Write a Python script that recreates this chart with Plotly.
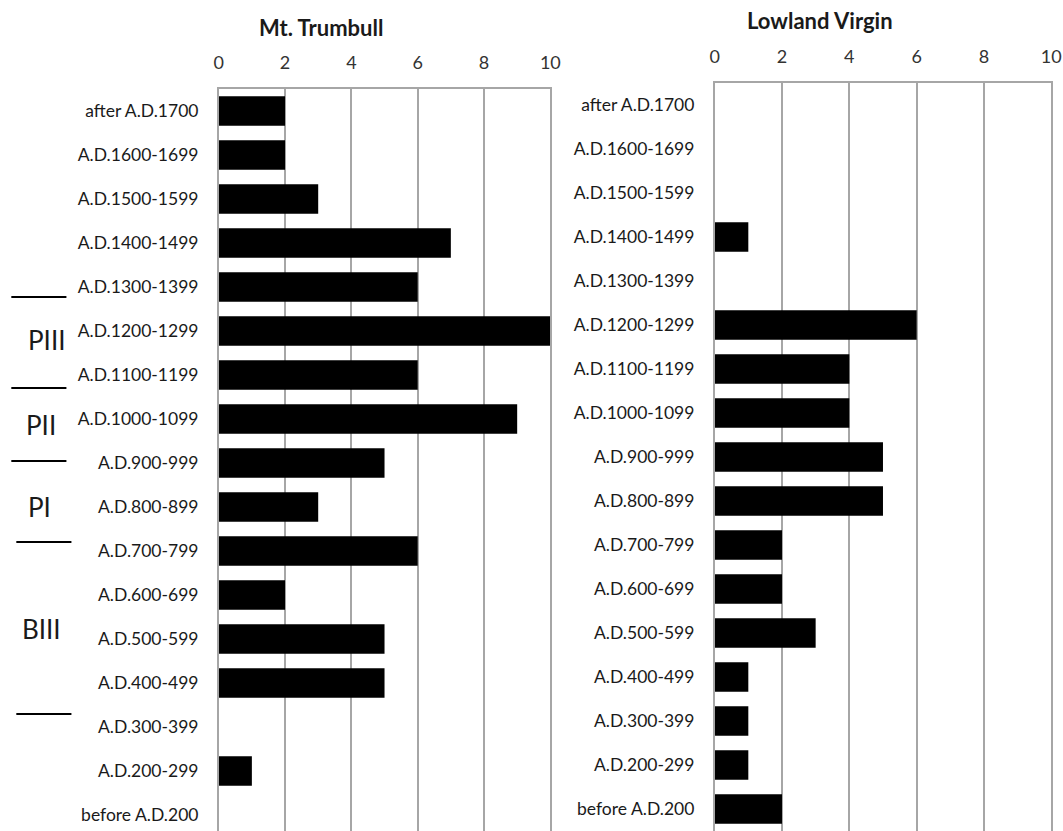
import plotly.graph_objects as go

categories = ["after A.D.1700", "A.D.1600-1699", "A.D.1500-1599", "A.D.1400-1499",
              "A.D.1300-1399", "A.D.1200-1299", "A.D.1100-1199", "A.D.1000-1099",
              "A.D.900-999", "A.D.800-899", "A.D.700-799", "A.D.600-699",
              "A.D.500-599", "A.D.400-499", "A.D.300-399", "A.D.200-299",
              "before A.D.200"]
mt_trumbull = [2, 2, 3, 7, 6, 10, 6, 9, 5, 3, 6, 2, 5, 5, 0, 1, 0]
lowland_virgin = [0, 0, 0, 1, 0, 6, 4, 4, 5, 5, 2, 2, 3, 1, 1, 1, 2]
x_ticks = [0, 2, 4, 6, 8, 10]
titles = ["Mt. Trumbull", "Lowland Virgin"]
periods = ["PIII", "PII", "PI", "BIII"]

W, H = 1063, 831
def px(x):
    return ((x - 4.7) / 0.984) / W
def py(y):
    return 1 - y / H

FONT = "Lato"
GRID = "#a6a6a6"
ROW = 44.0  # pixel pitch of the category rows

fig = go.Figure()
fig.add_trace(go.Bar(x=mt_trumbull, y=categories, orientation="h",
                     marker=dict(color="black", line=dict(width=0)),
                     xaxis="x", yaxis="y", showlegend=False))
fig.add_trace(go.Bar(x=lowland_virgin, y=categories, orientation="h",
                     marker=dict(color="black", line=dict(width=0)),
                     xaxis="x2", yaxis="y2", showlegend=False))

xcommon = dict(range=[0, 10], tickvals=x_ticks, side="top", showgrid=True,
               gridcolor=GRID, gridwidth=1.5, showline=True, linecolor=GRID,
               linewidth=1.5, mirror=False, zeroline=False,
               tickfont=dict(family=FONT, size=18, color="#333333"),
               ticks="", ticklabelstandoff=11, fixedrange=True)
ycommon = dict(type="category", showgrid=False,
               showline=True, linecolor=GRID, linewidth=1.5, mirror=True,
               tickfont=dict(family=FONT, size=17.5, color="#1a1a1a"),
               ticks="", ticklabelstandoff=15, fixedrange=True)

top_left, top_right = 89, 83
range_left = [-0.5 + (H - top_left) / ROW, -0.5]
range_right = [-0.5 + (H - top_right) / ROW, -0.5]

fig.update_layout(
    width=W, height=H,
    margin=dict(l=0, r=0, t=0, b=0),
    plot_bgcolor="white", paper_bgcolor="white",
    bargap=0.33,
    xaxis=dict(domain=[px(218), px(549)], anchor="y", **xcommon),
    yaxis=dict(anchor="x", domain=[0, py(top_left)], range=range_left, **ycommon),
    xaxis2=dict(domain=[px(713), px(1049)], anchor="y2", **xcommon),
    yaxis2=dict(anchor="x2", domain=[0, py(top_right)], range=range_right, **ycommon),
)

# Titles
fig.add_annotation(text="<b>" + titles[0] + "</b>", x=px(320), y=py(27),
                   xref="paper", yref="paper", showarrow=False,
                   xanchor="center", yanchor="middle",
                   font=dict(family=FONT, size=22, color="#1a1a1a"))
fig.add_annotation(text="<b>" + titles[1] + "</b>", x=px(818), y=py(20),
                   xref="paper", yref="paper", showarrow=False,
                   xanchor="center", yanchor="middle",
                   font=dict(family=FONT, size=22, color="#1a1a1a"))

# Period labels and dividers
label_pos = [(46, 340), (41, 425), (39, 507), (41, 629)]
for name, (lx, ly) in zip(periods, label_pos):
    fig.add_annotation(text=name, x=px(lx), y=py(ly), xref="paper", yref="paper",
                       showarrow=False, xanchor="center", yanchor="middle",
                       font=dict(family=FONT, size=26, color="#1a1a1a"))

dividers = [(11, 66, 297), (11, 66, 388), (11, 66, 461), (16, 71, 542), (16, 71, 714)]
for x0, x1, yy in dividers:
    fig.add_shape(type="line", xref="paper", yref="paper",
                  x0=px(x0), x1=px(x1), y0=py(yy), y1=py(yy),
                  line=dict(color="black", width=2))

fig.write_html("out.html", config={"displayModeBar": False},
               post_script="document.body.style.margin='0';document.body.style.overflow='hidden';")
